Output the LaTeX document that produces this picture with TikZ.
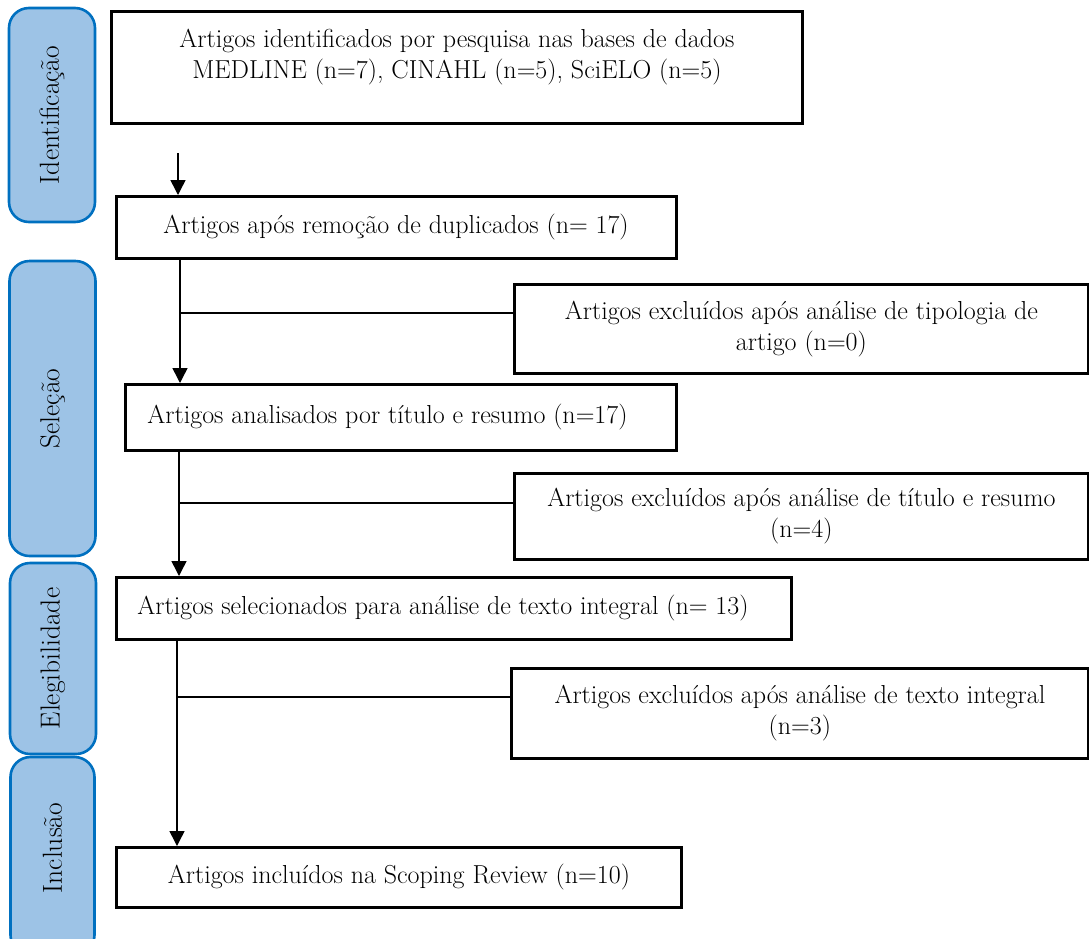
\documentclass[tikz,border=0pt]{standalone}
\usetikzlibrary{arrows.meta}
\definecolor{pillfill}{RGB}{157,195,230}
\definecolor{pilldraw}{RGB}{0,112,192}
\newcommand\mainsize{\fontsize{26pt}{31pt}\selectfont}
\newcommand\pillsize{\fontsize{27.5pt}{31pt}\selectfont}
\begin{document}
\begin{tikzpicture}[x=1pt,y=-1pt,
  box/.style={draw, line width=2.8pt, anchor=north west, inner sep=0pt, font=\mainsize},
  pill/.style={draw=pilldraw, fill=pillfill, line width=2.6pt, rounded corners=20pt, inner sep=0pt, font=\pillsize, rotate=90},
  conn/.style={line width=1.5pt},
  arr/.style={conn, -{Triangle[length=15pt,width=15pt]}}]
\useasboundingbox (0,0) rectangle (1089,938);
\begin{scope}
\clip (0,0) rectangle (1089,938);
% phase labels
\node[pill, minimum width=214pt, minimum height=86pt] (p1) at (52,115) {Identificação};
\node[pill, minimum width=295pt, minimum height=86pt] (p2) at (52.5,408.5) {Seleção};
\node[pill, minimum width=191pt, minimum height=86pt] (p3) at (53,658.5) {Elegibilidade};
\node[pill, minimum width=198pt, minimum height=84pt] (p4) at (52.5,856) {\hspace*{16pt}Inclusão};
% main boxes
\node[box, minimum width=691pt, minimum height=112pt] (b1) at (110,10)
  {\parbox[c][112pt][c]{691pt}{\centering Artigos identificados por pesquisa nas bases de dados\\MEDLINE (n=7), CINAHL (n=5), SciELO (n=5)\par\vspace{20pt}}};
\node[box, minimum width=560pt, minimum height=62pt] (b2) at (115,195)
  {\makebox[560pt][l]{\hspace{47pt}Artigos após remoção de duplicados (n= 17)}};
\node[box, minimum width=551pt, minimum height=66pt] (b3) at (124,383)
  {\makebox[551pt][l]{\hspace{22pt}Artigos analisados por título e resumo (n=17)}};
\node[box, minimum width=675pt, minimum height=62pt] (b4) at (115,576)
  {\makebox[675pt][l]{\hspace{21pt}Artigos selecionados para análise de texto integral (n= 13)}};
\node[box, minimum width=565pt, minimum height=60pt] (b5) at (115,846)
  {\makebox[565pt][c]{Artigos incluídos na Scoping Review (n=10)}};
% exclusion boxes
\node[box, minimum width=574pt, minimum height=89pt] (e1) at (513,283)
  {\parbox{574pt}{\centering Artigos excluídos após análise de tipologia de\\artigo (n=0)}};
\node[box, minimum width=574pt, minimum height=86pt] (e2) at (513,472)
  {\parbox{574pt}{\centering Artigos excluídos após análise de título e resumo\\(n=4)}};
\node[box, minimum width=577pt, minimum height=90pt] (e3) at (510,667)
  {\parbox{577pt}{\centering Artigos excluídos após análise de texto integral\\(n=3)}};
\end{scope}
% connectors
\coordinate (s0) at (178,153);
\draw[arr] (s0) -- (s0 |- b2.north);
\coordinate (t1) at (180,0);
\draw[arr] (t1 |- b2.south) -- (t1 |- b3.north);
\coordinate (j1) at (180,313);
\draw[conn] (j1) -- (j1 -| e1.west);
\coordinate (t2) at (179,0);
\draw[arr] (t2 |- b3.south) -- (t2 |- b4.north);
\coordinate (j2) at (179,503);
\draw[conn] (j2) -- (j2 -| e2.west);
\coordinate (t3) at (177,0);
\draw[arr] (t3 |- b4.south) -- (t3 |- b5.north);
\coordinate (j3) at (177,697);
\draw[conn] (j3) -- (j3 -| e3.west);
\end{tikzpicture}
\end{document}
